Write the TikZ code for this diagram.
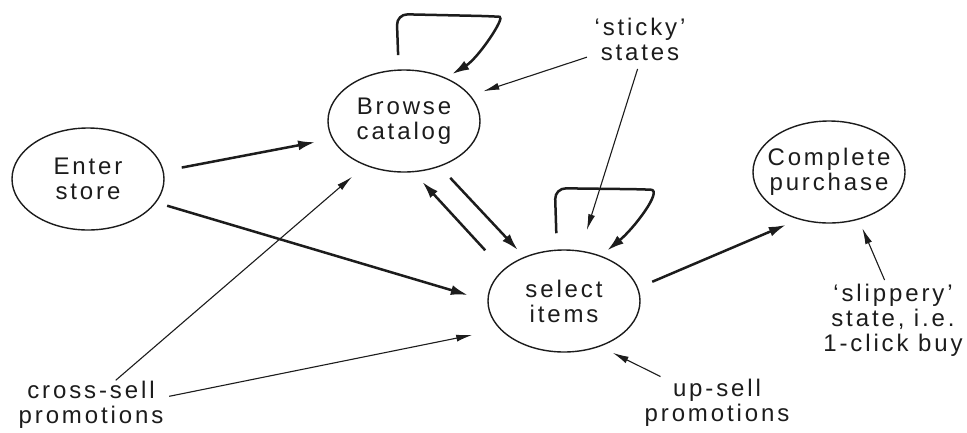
\documentclass[tikz,border=0pt]{standalone}
\usepackage{fontspec}
\setmainfont{Liberation Sans}[LetterSpace=12]
\usetikzlibrary{shapes.geometric,arrows.meta}
\definecolor{ink}{HTML}{1C1C1C}
\begin{document}
\begin{tikzpicture}[x=1pt,y=-1pt,
  state/.style={draw=ink, line width=1.4pt, ellipse, minimum width=152pt, minimum height=102pt, inner sep=0pt, outer sep=0pt},
  txt/.style={align=center, font=\fontsize{24}{25}\selectfont, text=ink, inner sep=1pt, outer sep=0pt},
  mainarr/.style={draw=ink, line width=2.5pt, -{Latex[length=17pt,width=10pt]}},
  thinarr/.style={draw=ink, line width=1.1pt, -{Latex[length=16pt,width=7pt]}},
]
\useasboundingbox[fill=white] (0,0) rectangle (967,432);

% states
\node[state] (enter) at (88,179) {};
\node[txt] (entert) at (enter) {Enter\\store};
\node[state] (browse) at (404,121) {};
\node[txt] (browset) at (browse) {Browse\\catalog};
\node[state] (select) at (564,301) {};
\node[txt] (selectt) at (select) {select\\items};
\node[state] (complete) at (829,172) {};
\node[txt] (completet) at (complete) {Complete\\purchase};

% annotations
\node[txt] (sticky) at (640,39) {‘sticky’\\states};
\node[txt] (slippery) at (893,320) {‘slippery’\\state, i.e.\\1-click buy};
\node[txt] (upsell) at (717,403) {up-sell\\promotions};
\node[txt] (cross) at (91,405) {cross-sell\\promotions};

% transitions
\draw[mainarr, shorten <=19pt, shorten >=18pt] (enter.6) -- (browse.194);
\draw[mainarr, shorten <=12pt, shorten >=21pt] (enter.-19) -- (select.180);
\draw[mainarr, shorten <=16pt, shorten >=10pt] (browse.-52) -- (select.132);
\draw[mainarr, shorten <=27pt, shorten >=14pt] (select.153) -- (browse.-80);
\draw[mainarr, shorten <=16pt, shorten >=15pt] (select.10) -- (complete.-122);
\draw[mainarr, rounded corners=11pt, shorten <=15pt, shorten >=8pt]
  (browse.96) -- ++(-2,-56) -- ++(92,2)
  .. controls +(17,1) and +(33,-20) .. (browse.46);
\draw[mainarr, rounded corners=11pt, shorten <=17pt, shorten >=9pt]
  (select.98) -- ++(-2,-62) -- ++(85,1)
  .. controls +(23,1) and +(34,-28) .. (select.51);

% annotation arrows
\draw[thinarr, shorten >=18pt] (cross.45) -- (browse.229);
\draw[thinarr, shorten <=5pt, shorten >=29pt] (cross.6) -- (select.204);
\draw[thinarr, shorten <=7pt, shorten >=14pt] (sticky.199) -- (browse.21);
\draw[thinarr, shorten <=8pt, shorten >=22pt] (sticky.south) -- (select.72);
\draw[thinarr, shorten <=3pt, shorten >=10pt] (slippery.101) -- (complete.-58);
\draw[thinarr, shorten <=4pt, shorten >=15pt] (upsell.155) -- (select.-52);
\end{tikzpicture}
\end{document}
